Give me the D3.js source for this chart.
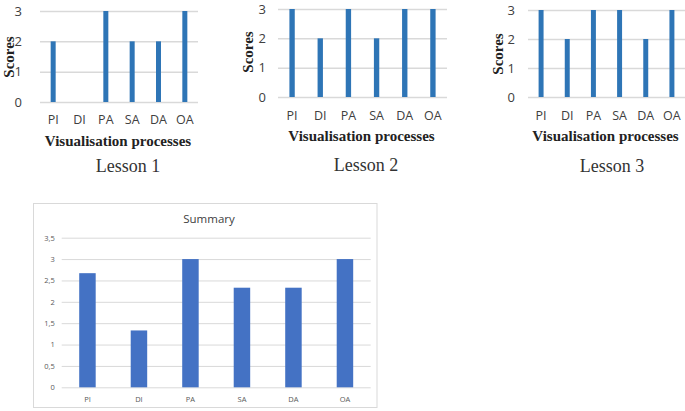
<!DOCTYPE html>
<html><head><meta charset="utf-8">
<script src="https://cdn.jsdelivr.net/npm/d3@7"></script>
<style>
html,body{margin:0;padding:0;background:#fff;}
svg{display:block;}
</style></head>
<body>
<svg id="c" width="685" height="411"></svg>
<script>
const categories = ["PI","DI","PA","SA","DA","OA"];
const lesson1 = [2,0,3,2,2,3];
const lesson2 = [3,2,3,2,3,3];
const lesson3 = [3,2,3,3,2,3];
const summaryValues = [2.67,1.33,3,2.33,2.33,3];
const lessonTicks = [0,1,2,3];
const summaryTicks = [0,0.5,1,1.5,2,2.5,3,3.5];
const lessonTitles = ["Lesson 1","Lesson 2","Lesson 3"];

const svg = d3.select("#c");
const sans = "'Open Sans','Noto Sans',Arial,sans-serif";
const serif = "'Liberation Serif','Times New Roman',serif";

const panels = [
  {vals:lesson1, x0:40, x1:198, y0:102, y3:11, tickX:22, catY:124, scoresX:9, scoresY:57, vpY:146, lY:172, title:lessonTitles[0], titleX:128},
  {vals:lesson2, x0:278, x1:447, y0:97, y3:9, tickX:266, catY:120, scoresX:248, scoresY:52, vpY:141, lY:171, title:lessonTitles[1], titleX:366},
  {vals:lesson3, x0:528, x1:685, y0:97, y3:10, tickX:515, catY:120, scoresX:498, scoresY:54, vpY:141, lY:172, title:lessonTitles[2], titleX:612}
];

panels.forEach(p => {
  const x = d3.scaleBand().domain(categories).range([p.x0, p.x1]).paddingInner(0.81).paddingOuter(0.405);
  const y = d3.scaleLinear().domain([0,3]).range([p.y0, p.y3]);
  const g = svg.append("g");
  const ax = g.append("g").attr("transform", `translate(${p.x0},0)`)
    .call(d3.axisLeft(y).tickValues(lessonTicks).tickFormat(d3.format("d"))
      .tickSize(-(p.x1 - p.x0)).tickPadding(p.x0 - p.tickX));
  ax.select(".domain").remove();
  ax.selectAll(".tick line").attr("stroke", "#d9d9d9").attr("stroke-width", 1.5);
  ax.selectAll(".tick text").attr("font-family", sans).attr("font-size", 13).attr("fill", "#404040");
  g.selectAll("rect.b").data(p.vals).join("rect")
    .attr("x", (d,i) => x(categories[i])).attr("width", x.bandwidth())
    .attr("y", d => y(d)).attr("height", d => y(0) - y(d))
    .attr("fill", "#2e75b6");
  g.selectAll("text.cat").data(categories).join("text")
    .attr("x", d => x(d) + x.bandwidth()/2).attr("y", p.catY)
    .attr("text-anchor", "middle").attr("font-family", sans).attr("font-size", 12.5).attr("fill", "#404040")
    .text(d => d);
  g.append("text").attr("transform", `translate(${p.scoresX},${p.scoresY}) rotate(-90)`)
    .attr("text-anchor", "middle").attr("dominant-baseline", "central")
    .attr("font-family", serif).attr("font-weight", "bold").attr("font-size", 15).attr("fill", "#222")
    .text("Scores");
  g.append("text").attr("x", (p.x0 + p.x1)/2 - 1).attr("y", p.vpY)
    .attr("text-anchor", "middle").attr("font-family", serif).attr("font-weight", "bold").attr("font-size", 15).attr("fill", "#222")
    .text("Visualisation processes");
  g.append("text").attr("x", p.titleX).attr("y", p.lY)
    .attr("text-anchor", "middle").attr("font-family", serif).attr("font-size", 18).attr("fill", "#333")
    .text(p.title);
});

// Summary chart
const s = {x0:61.7, x1:370.7, y0:387.3, yTop:237.7};
svg.append("rect").attr("x", 33.5).attr("y", 203.5).attr("width", 343.5).attr("height", 204)
  .attr("fill", "#fff").attr("stroke", "#d9d9d9").attr("stroke-width", 1);
const sx = d3.scaleBand().domain(categories).range([s.x0, s.x1]).paddingInner(0.68).paddingOuter(0.34);
const sy = d3.scaleLinear().domain([0,3.5]).range([s.y0, s.yTop]);
const sg = svg.append("g");
const sax = sg.append("g").attr("transform", `translate(${s.x0},0)`)
  .call(d3.axisLeft(sy).tickValues(summaryTicks).tickSize(-(s.x1 - s.x0)).tickPadding(7)
    .tickFormat(d => String(d).replace(".", ",")));
sax.select(".domain").remove();
sax.selectAll(".tick line").attr("stroke", "#d9d9d9").attr("stroke-width", 1);
sax.selectAll(".tick text").attr("font-family", sans).attr("font-size", 7.5).attr("fill", "#595959");
sg.selectAll("rect.sb").data(summaryValues).join("rect")
  .attr("x", (d,i) => sx(categories[i])).attr("width", sx.bandwidth())
  .attr("y", d => sy(d)).attr("height", d => sy(0) - sy(d))
  .attr("fill", "#4472c4");
sg.selectAll("text.scat").data(categories).join("text")
  .attr("x", d => sx(d) + sx.bandwidth()/2).attr("y", 402)
  .attr("text-anchor", "middle").attr("font-family", sans).attr("font-size", 7.5).attr("fill", "#595959")
  .text(d => d);
sg.append("text").attr("x", 209).attr("y", 223).attr("text-anchor", "middle")
  .attr("font-family", sans).attr("font-size", 11.5).attr("fill", "#404040").text("Summary");
</script>
</body></html>
